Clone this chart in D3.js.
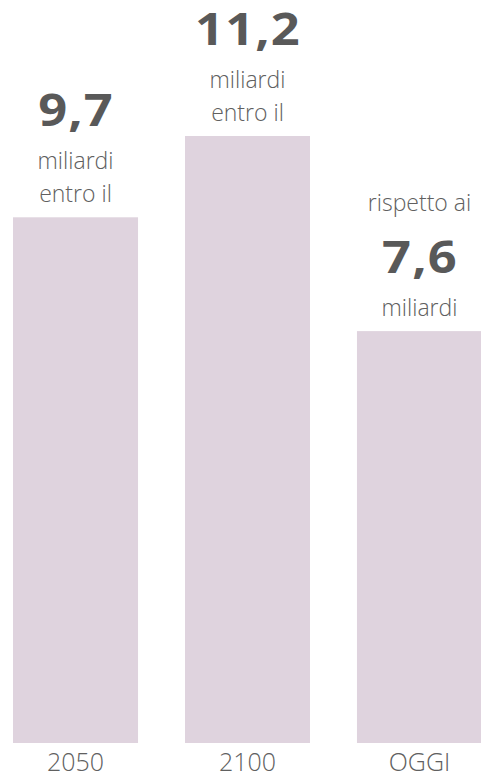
<!DOCTYPE html>
<html>
<head>
<meta charset="utf-8">
<script src="https://cdn.jsdelivr.net/npm/d3@7"></script>
<style>
  body { margin: 0; background: #fff; }
  svg { display: block; font-family: 'Open Sans', sans-serif; }
</style>
</head>
<body>
<svg id="chart" width="481" height="775"></svg>
<script>
const categories = ['2050', '2100', 'OGGI'];
const values = [9.7, 11.2, 7.6];
const valueLabels = ['9,7', '11,2', '7,6'];
const textBefore = ['', '', 'rispetto ai'];
const textAfter = [['miliardi', 'entro il'], ['miliardi', 'entro il'], ['miliardi']];

const barBottom = 743;
const barColor = '#dfd3de';
const boldColor = '#595959';
const textColor = '#606060';

const svg = d3.select('#chart');

const x = d3.scaleBand()
  .domain(categories)
  .range([13, 482])
  .paddingInner(0.273)
  .paddingOuter(0);

const y = d3.scaleLinear()
  .domain([0, d3.max(values)])
  .range([barBottom, 136]);

const data = categories.map((c, i) => ({
  cat: c, value: values[i], label: valueLabels[i],
  before: textBefore[i], after: textAfter[i]
}));

svg.append('g')
  .selectAll('rect')
  .data(data)
  .enter()
  .append('rect')
  .attr('x', d => x(d.cat))
  .attr('y', d => y(d.value))
  .attr('width', x.bandwidth())
  .attr('height', d => y(0) - y(d.value))
  .attr('fill', barColor);

// labels stacked upward from the top of each bar
data.forEach(d => {
  const cx = x(d.cat) + x.bandwidth() / 2;
  const lines = [];
  if (d.before) lines.push({ t: d.before, bold: false });
  lines.push({ t: d.label, bold: true });
  d.after.forEach(t => lines.push({ t, bold: false }));

  let yy = y(d.value) - 15;
  let prev = null;
  const g = svg.append('g');
  for (let i = lines.length - 1; i >= 0; i--) {
    const ln = lines[i];
    if (prev) {
      if (!ln.bold && !prev.bold) yy -= 33;
      else if (ln.bold) yy -= 43;
      else yy -= 62;
    }
    if (ln.bold) {
      // the big figures are wider than Open Sans bold, stretch them a bit
      g.append('text')
        .attr('transform', `translate(${cx + 0.5},${yy}) scale(1.15,1)`)
        .attr('text-anchor', 'middle')
        .attr('fill', boldColor)
        .style('font-size', '44px')
        .style('font-weight', 700)
        .style('letter-spacing', '1px')
        .text(ln.t);
    } else {
      g.append('text')
        .attr('x', cx)
        .attr('y', yy)
        .attr('text-anchor', 'middle')
        .attr('fill', textColor)
        .style('font-size', '23px')
        .style('font-weight', 300)
        .text(ln.t);
    }
    prev = ln;
  }
});

const axis = svg.append('g')
  .attr('transform', `translate(0,${barBottom})`)
  .call(d3.axisBottom(x).tickSize(0).tickPadding(0));

axis.select('.domain').remove();
axis.selectAll('text')
  .attr('y', 28)
  .attr('dy', 0)
  .attr('fill', textColor)
  .style('font-family', "'Open Sans', sans-serif")
  .style('font-weight', 300)
  .style('font-size', '25px');
</script>
</body>
</html>
